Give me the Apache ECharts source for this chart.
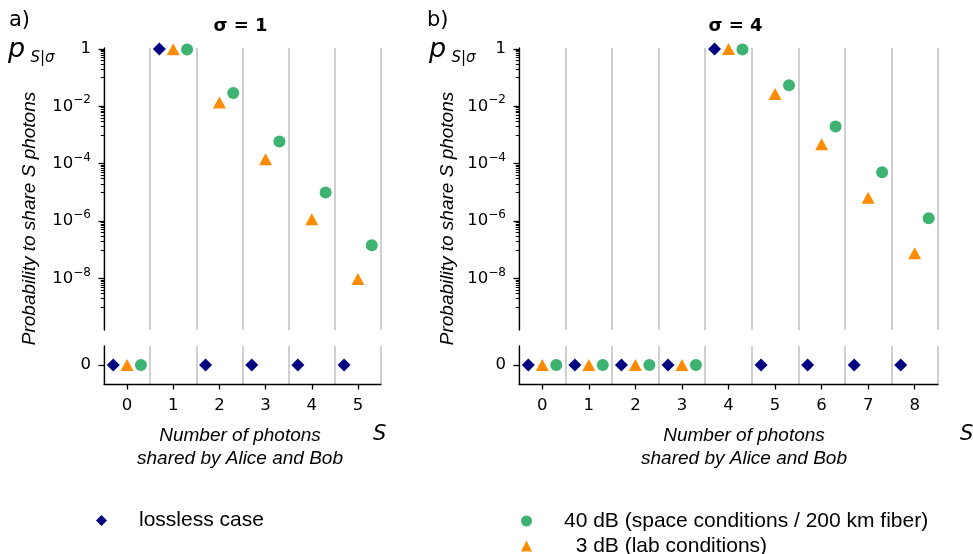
<!DOCTYPE html>
<html><head><meta charset="utf-8">
<script src="https://cdn.jsdelivr.net/npm/echarts@6/dist/echarts.min.js"></script>
<style>html,body{margin:0;padding:0;background:#fff}#c{width:973px;height:554px}</style>
</head><body><div id="c"></div>
<script>
// ---------- data ----------
const sA = [0, 1, 2, 3, 4, 5];
const losslessA = [0, 1, 0, 0, 0, 0];
const db40A = [0, 0.95, 2.9e-2, 5.9e-4, 1.0e-5, 1.45e-7];
const db3A = [0, 0.98, 1.35e-2, 1.44e-4, 1.17e-6, 9.5e-9];

const sB = [0, 1, 2, 3, 4, 5, 6, 7, 8];
const losslessB = [0, 0, 0, 0, 1, 0, 0, 0, 0];
const db40B = [0, 0, 0, 0, 0.95, 5.4e-2, 2.0e-3, 5.0e-5, 1.25e-6];
const db3B = [0, 0, 0, 0, 1.0, 2.7e-2, 4.8e-4, 6.5e-6, 7.6e-8];

const majorTickValues = [1, 1e-2, 1e-4, 1e-6, 1e-8];
const minorTickDecades = [1e-1, 1e-3, 1e-5, 1e-7, 1e-9];
const minorTickSubs = [1, 2, 3, 4, 5, 6, 7, 8, 9];
const zeroTick = [0];

const nameLossless = 'lossless case';
const name40 = '40 dB (space conditions / 200 km fiber)';
const name3 = '3 dB (lab conditions)';
const panelTitles = ['σ = 1', 'σ = 4'];
const panelLetters = ['a)', 'b)'];

// ---------- layout / style ----------
const xMin = -0.5;
const yMin = 1.6e-10, yMax = 1.08;
const upperTop = 48, upperH = 282, lowerTop = 346, lowerH = 38;
const gridColor = '#d0d0d0';
const TICKFONT = 'DejaVu Sans';
const SANS = 'Liberation Sans';

const markerStyles = [
  {name: nameLossless, symbol: 'diamond', size: 13, color: '#000080', off: -0.3},
  {name: name40, symbol: 'circle', size: 12, color: '#3cb371', off: 0.3},
  {name: name3, symbol: 'triangle', size: [13, 12], color: '#ff8c00', off: 0}
];

const panels = [
  {left: 104, width: 277, xMax: 5.5, s: sA, sets: [losslessA, db40A, db3A]},
  {left: 519, width: 419, xMax: 8.5, s: sB, sets: [losslessB, db40B, db3B]}
];

const minorTickValues = [];
minorTickDecades.forEach(d => minorTickSubs.forEach(m => minorTickValues.push(m * d)));

function logLabel(v) {
  const e = Math.log10(v);
  const r = Math.round(e);
  if (Math.abs(e - r) > 1e-6 || r % 2 !== 0) return '';
  if (r === 0) return '1';
  return '10{sup|\u2212' + (-r) + '}';
}

const grids = [], xAxes = [], yAxes = [], series = [];
const axisLineStyle = {color: '#000', width: 1.3};
const majorTickStyle = {color: '#000', width: 1.3};
const tickLabelStyle = {fontSize: 16.5, fontFamily: TICKFONT, color: '#000'};

panels.forEach((p) => {
  const gU = grids.length; grids.push({left: p.left, top: upperTop, width: p.width, height: upperH});
  const gL = grids.length; grids.push({left: p.left, top: lowerTop, width: p.width, height: lowerH});
  const splitX = gi => ({type: 'value', gridIndex: gi, min: xMin, max: p.xMax, interval: 1,
    axisLine: {show: false, onZero: false}, axisTick: {show: false}, axisLabel: {show: false},
    splitLine: {show: true, lineStyle: {color: gridColor, width: 2}}});
  const xU = xAxes.length; xAxes.push(splitX(gU));
  xAxes.push(splitX(gL));
  const xL = xAxes.length;
  xAxes.push({type: 'value', gridIndex: gL, min: xMin, max: p.xMax, position: 'bottom',
    axisLine: {show: true, onZero: false, lineStyle: axisLineStyle},
    axisTick: {show: true, customValues: p.s, length: 5.5, lineStyle: majorTickStyle},
    axisLabel: Object.assign({show: true, customValues: p.s, margin: 13}, tickLabelStyle),
    splitLine: {show: false}});
  // minor-tick overlay log axis (same scale, no line, no labels)
  yAxes.push({type: 'log', logBase: 10, gridIndex: gU, min: yMin, max: yMax, position: 'left', offset: 0,
    axisLine: {show: false, onZero: false},
    axisTick: {show: true, customValues: minorTickValues, length: 3.2, lineStyle: {color: '#000', width: 1}},
    axisLabel: {show: false}, splitLine: {show: false}, minorTick: {show: false}});
  const yU = yAxes.length;
  yAxes.push({type: 'log', logBase: 10, gridIndex: gU, min: yMin, max: yMax, splitNumber: 10, position: 'left', offset: 0,
    axisLine: {show: true, onZero: false, lineStyle: axisLineStyle},
    axisTick: {show: true, customValues: majorTickValues, length: 5.5, lineStyle: majorTickStyle},
    minorTick: {show: false}, splitLine: {show: false},
    axisLabel: Object.assign({show: true, margin: 13, lineHeight: 24, formatter: logLabel,
      rich: {sup: {fontSize: 12, fontFamily: TICKFONT, color: '#000', verticalAlign: 'top', lineHeight: 12}}},
      tickLabelStyle)});
  const yL = yAxes.length;
  yAxes.push({type: 'value', gridIndex: gL, min: -1, max: 1,
    axisLine: {show: true, onZero: false, lineStyle: axisLineStyle},
    axisTick: {show: true, customValues: zeroTick, length: 5.5, lineStyle: majorTickStyle},
    axisLabel: Object.assign({show: true, customValues: zeroTick, margin: 13}, tickLabelStyle),
    splitLine: {show: false}});

  markerStyles.forEach((m, k) => {
    const vals = p.sets[k];
    const up = [], low = [];
    p.s.forEach((s, i) => {
      if (vals[i] > 0) up.push([s + m.off, vals[i]]);
      else low.push([s + m.off, 0]);
    });
    const base = {type: 'scatter', name: m.name, symbol: m.symbol, symbolSize: m.size, clip: false, z: 3,
      itemStyle: {color: m.color, opacity: 1}, emphasis: {disabled: true}};
    series.push(Object.assign({}, base, {xAxisIndex: xU, yAxisIndex: yU, data: up}));
    series.push(Object.assign({}, base, {xAxisIndex: xL, yAxisIndex: yL, data: low}));
  });
});

const graphics = [];
function txt(x, y, text, o) {
  graphics.push(Object.assign({type: 'text', x: x, y: y, silent: true,
    style: Object.assign({text: text, fill: '#000', align: 'left', verticalAlign: 'middle'}, o)}));
}
const panelOffsets = [0, 418];
const pOffsets = [0, 421];
panels.forEach((p, pi) => {
  const dx = panelOffsets[pi];
  txt(9 + dx, 20.5, panelLetters[pi], {fontSize: 21, fontFamily: TICKFONT});
  txt(p.left + p.width / 2 - 2 + (pi ? 9 : 0), 26, panelTitles[pi], {fontSize: 18, fontWeight: 'bold', fontFamily: TICKFONT, align: 'center'});
  txt(8 + pOffsets[pi], 50, 'p', {fontSize: 27, fontStyle: 'italic', fontFamily: TICKFONT});
  txt(30.5 + pOffsets[pi], 58.5, 'S|σ', {fontSize: 15, fontStyle: 'italic', fontFamily: TICKFONT});
  graphics.push({type: 'text', x: 29.5 + dx, y: 218.5, rotation: Math.PI / 2, silent: true,
    style: {text: 'Probability to share S photons', fill: '#000', align: 'center', verticalAlign: 'middle',
      fontSize: 19, fontStyle: 'italic', fontFamily: SANS}});
  txt(pi ? 744 : 240, 447, 'Number of photons\nshared by Alice and Bob',
    {fontSize: 19, fontStyle: 'italic', fontFamily: SANS, align: 'center', lineHeight: 23.5});
  txt(pi ? 960 : 373, 435, 'S', {fontSize: 21, fontStyle: 'italic', fontFamily: TICKFONT});
});

const legendText = {fontFamily: SANS, fontSize: 21, color: '#000'};
function legendItem(name, icon, left, top, label) {
  return {data: [{name: name, icon: icon}], left: left, top: top, padding: 0,
    itemWidth: 11, itemHeight: 11, selectedMode: false,
    formatter: () => label,
    textStyle: Object.assign({padding: [0, 0, 0, 27]}, legendText)};
}
const option = {
  animation: false,
  backgroundColor: '#fff',
  textStyle: {fontFamily: TICKFONT},
  grid: grids, xAxis: xAxes, yAxis: yAxes, series: series,
  graphic: graphics,
  legend: [
    legendItem(nameLossless, 'diamond', 96, 510, nameLossless),
    legendItem(name40, 'circle', 521, 510.5, name40),
    legendItem(name3, 'triangle', 521, 535.5, '  ' + name3)
  ]
};
const chart = echarts.init(document.getElementById('c'));
chart.setOption(option);
</script>
</body></html>
